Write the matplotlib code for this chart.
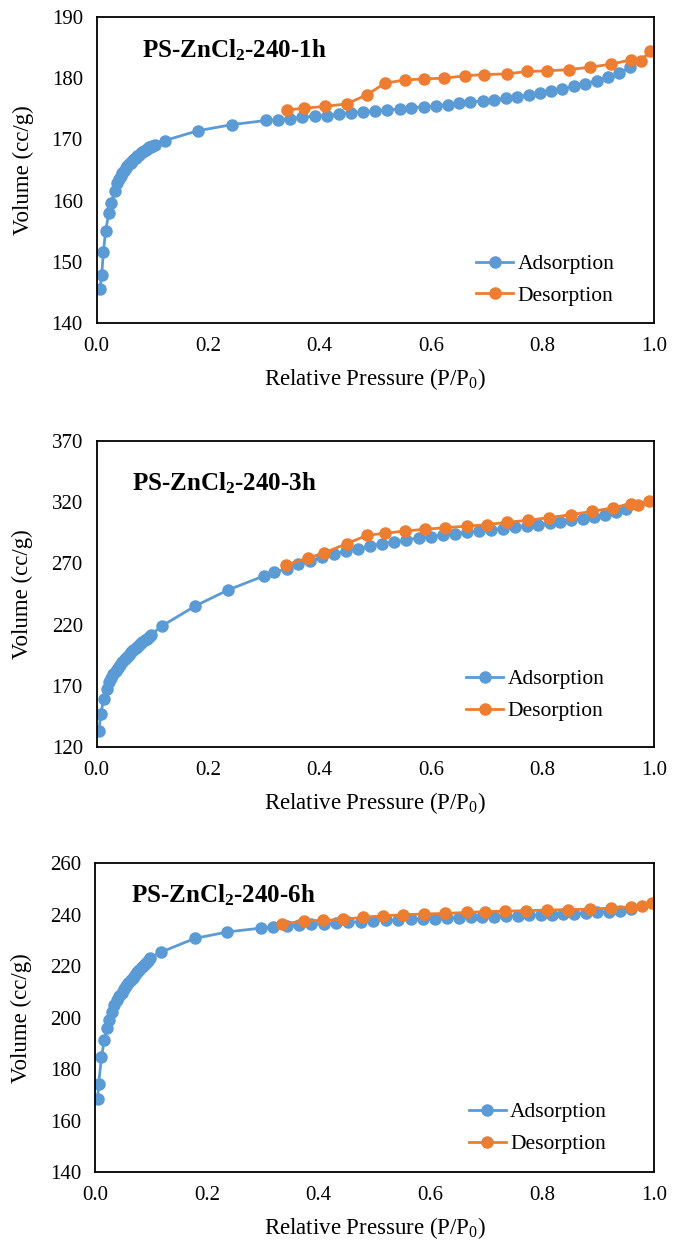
import matplotlib
matplotlib.use("Agg")
import matplotlib.pyplot as plt

plt.rcParams['font.family'] = ['Liberation Serif', 'DejaVu Serif']
plt.rcParams['mathtext.default'] = 'regular'

# ---- PS-ZnCl2-240-1h ----
ads_1h_p = [0.006, 0.009, 0.012, 0.016, 0.022, 0.026, 0.032, 0.036,
            0.040, 0.043, 0.046, 0.049, 0.052, 0.055, 0.058, 0.061, 0.064, 0.067,
            0.070, 0.073, 0.076, 0.079, 0.082, 0.085, 0.088, 0.091, 0.094, 0.097,
            0.100, 0.104, 0.122, 0.181, 0.242, 0.304, 0.325, 0.347, 0.369, 0.391,
            0.413, 0.435, 0.456, 0.478, 0.500, 0.522, 0.544, 0.565, 0.587, 0.609,
            0.630, 0.651, 0.671, 0.693, 0.714, 0.734, 0.755, 0.776, 0.796, 0.816,
            0.836, 0.856, 0.877, 0.898, 0.918, 0.938, 0.958]
ads_1h_v = [145.6, 147.9, 151.6, 155.1, 158.0, 159.6, 161.5, 162.9,
            163.5, 164.0, 164.5, 164.9, 165.3, 165.6, 165.9, 166.2, 166.5, 166.8,
            167.0, 167.3, 167.5, 167.7, 167.9, 168.1, 168.3, 168.5, 168.7, 168.8,
            169.0, 169.1, 169.8, 171.4, 172.4, 173.1, 173.2, 173.4, 173.6, 173.8,
            173.9, 174.1, 174.3, 174.5, 174.6, 174.8, 175.0, 175.2, 175.3, 175.5,
            175.7, 175.9, 176.1, 176.3, 176.5, 176.7, 177.0, 177.3, 177.5, 177.9,
            178.2, 178.7, 179.1, 179.6, 180.2, 180.8, 181.8]
des_1h_p = [0.994, 0.977, 0.959, 0.924, 0.886, 0.847, 0.809, 0.773, 0.736, 0.696,
            0.662, 0.624, 0.588, 0.553, 0.518, 0.485, 0.449, 0.410, 0.373, 0.342]
des_1h_v = [184.5, 182.8, 183.0, 182.3, 181.8, 181.4, 181.2, 181.1, 180.7, 180.6,
            180.4, 180.0, 179.9, 179.7, 179.2, 177.3, 175.8, 175.4, 175.1, 174.8]

# ---- PS-ZnCl2-240-3h ----
ads_3h_p = [0.004, 0.007, 0.013, 0.018, 0.022, 0.026, 0.030, 0.034, 0.038, 0.042,
            0.046, 0.050, 0.054, 0.058, 0.062, 0.066, 0.070, 0.074, 0.078, 0.082,
            0.086, 0.090, 0.094, 0.097, 0.118, 0.177, 0.236, 0.300, 0.319, 0.341,
            0.362, 0.383, 0.405, 0.426, 0.447, 0.469, 0.491, 0.512, 0.534, 0.555,
            0.579, 0.601, 0.622, 0.643, 0.665, 0.686, 0.708, 0.729, 0.751, 0.772,
            0.792, 0.813, 0.832, 0.852, 0.873, 0.893, 0.912, 0.932, 0.951]
ads_3h_v = [132.8, 146.7, 159.5, 167.7, 173.1, 176.5, 179.5, 182.3, 184.8, 187.2,
            189.4, 191.5, 193.5, 195.4, 197.2, 199.0, 200.7, 202.3, 203.9, 205.5,
            207.0, 208.5, 210.0, 211.5, 219.1, 235.2, 248.3, 259.7, 262.7, 265.7,
            269.2, 272.0, 275.2, 277.7, 279.9, 282.0, 284.2, 286.1, 287.5, 289.1,
            290.8, 291.8, 293.2, 294.3, 295.4, 296.2, 297.3, 298.4, 299.7, 300.6,
            301.6, 302.7, 303.8, 305.2, 306.5, 307.9, 309.5, 311.7, 314.2]
des_3h_p = [0.992, 0.971, 0.959, 0.926, 0.889, 0.852, 0.812, 0.775, 0.737, 0.700,
            0.664, 0.626, 0.589, 0.554, 0.518, 0.485, 0.449, 0.408, 0.379, 0.340]
des_3h_v = [320.7, 317.4, 318.8, 315.3, 312.5, 309.8, 307.4, 305.2, 303.6, 301.6,
            300.3, 299.2, 297.8, 296.5, 294.6, 292.9, 286.1, 278.5, 274.4, 268.7]

# ---- PS-ZnCl2-240-6h ----
ads_6h_p = [0.004, 0.006, 0.011, 0.016, 0.021, 0.025, 0.030, 0.034, 0.039, 0.043,
            0.047, 0.051, 0.055, 0.059, 0.063, 0.067, 0.071, 0.075, 0.079, 0.083,
            0.087, 0.091, 0.094, 0.097, 0.118, 0.178, 0.236, 0.296, 0.319, 0.343,
            0.365, 0.387, 0.409, 0.431, 0.453, 0.475, 0.498, 0.520, 0.542, 0.565,
            0.586, 0.608, 0.630, 0.651, 0.672, 0.693, 0.714, 0.735, 0.756, 0.777,
            0.798, 0.818, 0.838, 0.858, 0.879, 0.898, 0.919, 0.939, 0.959]
ads_6h_v = [168.2, 174.4, 184.8, 191.2, 195.8, 199.0, 202.3, 204.9, 206.8, 208.3,
            209.7, 211.0, 212.2, 213.4, 214.5, 215.6, 216.6, 217.6, 218.6, 219.6,
            220.5, 221.4, 222.2, 223.0, 225.5, 230.8, 233.3, 234.8, 235.4, 235.6,
            235.9, 236.3, 236.5, 236.8, 237.0, 237.3, 237.6, 237.8, 237.9, 238.2,
            238.3, 238.5, 238.6, 238.9, 239.0, 239.1, 239.2, 239.4, 239.5, 239.8,
            239.9, 240.0, 240.3, 240.4, 240.7, 240.9, 241.2, 241.6, 242.1]
des_6h_p = [0.997, 0.979, 0.960, 0.924, 0.885, 0.846, 0.808, 0.772, 0.734, 0.697,
            0.666, 0.626, 0.588, 0.551, 0.516, 0.479, 0.443, 0.408, 0.373, 0.335]
des_6h_v = [244.4, 243.4, 243.1, 242.6, 242.2, 242.0, 241.8, 241.6, 241.4, 241.2,
            240.9, 240.5, 240.3, 240.0, 239.6, 239.0, 238.2, 237.8, 237.6, 236.4]

# title, adsorption, desorption, y range, y step, axes rect, title pos, legend pos
panels = [
    ("PS-ZnCl$_2$-240-1h", ads_1h_p, ads_1h_v, des_1h_p, des_1h_v, (140, 190), 10,
     [0.142, 0.7395, 0.818, 0.2468], (0.081, 0.892), (0.681, 0.1405)),
    ("PS-ZnCl$_2$-240-3h", ads_3h_p, ads_3h_v, des_3h_p, des_3h_v, (120, 370), 50,
     [0.142, 0.3976, 0.818, 0.2468], (0.063, 0.863), (0.663, 0.1695)),
    ("PS-ZnCl$_2$-240-6h", ads_6h_p, ads_6h_v, des_6h_p, des_6h_v, (140, 260), 20,
     [0.140, 0.0548, 0.820, 0.2490], (0.063, 0.896), (0.669, 0.142)),
]

blue = '#5B9BD5'
orange = '#ED7D31'

fig = plt.figure(figsize=(6.81, 12.4), dpi=100)

for title, ap, av, dp, dv, ylim, step, rect, tpos, lpos in panels:
    ax = fig.add_axes(rect)
    ax.plot(ap, av, color=blue, marker='o', markersize=8, linewidth=2, label='Adsorption')
    ax.plot(dp, dv, color=orange, marker='o', markersize=8, linewidth=2, label='Desorption')
    ax.set_xlim(0, 1.0)
    ax.set_ylim(*ylim)
    ax.set_xticks([0.0, 0.2, 0.4, 0.6, 0.8, 1.0])
    ax.set_xticklabels(['0.0', '0.2', '0.4', '0.6', '0.8', '1.0'])
    ax.set_yticks(range(ylim[0], ylim[1] + 1, step))
    ax.tick_params(length=0, labelsize=15)
    ax.tick_params(axis='x', pad=10)
    ax.tick_params(axis='y', pad=10)
    for s in ax.spines.values():
        s.set_linewidth(1.3)
        s.set_color('black')
    ax.set_xlabel('Relative Pressure (P/P$_0$)', fontsize=16.5, labelpad=7)
    ax.set_ylabel('Volume (cc/g)', fontsize=16.5, labelpad=13)
    ax.text(tpos[0], tpos[1], title, transform=ax.transAxes, fontsize=18,
            fontweight='bold', va='center', ha='left')
    ax.legend(loc='center left', bbox_to_anchor=lpos, frameon=False,
              fontsize=15.5, handlelength=1.72, labelspacing=0.55,
              handletextpad=0.2, borderpad=0, borderaxespad=0)

fig.savefig('out.png', dpi=100)
